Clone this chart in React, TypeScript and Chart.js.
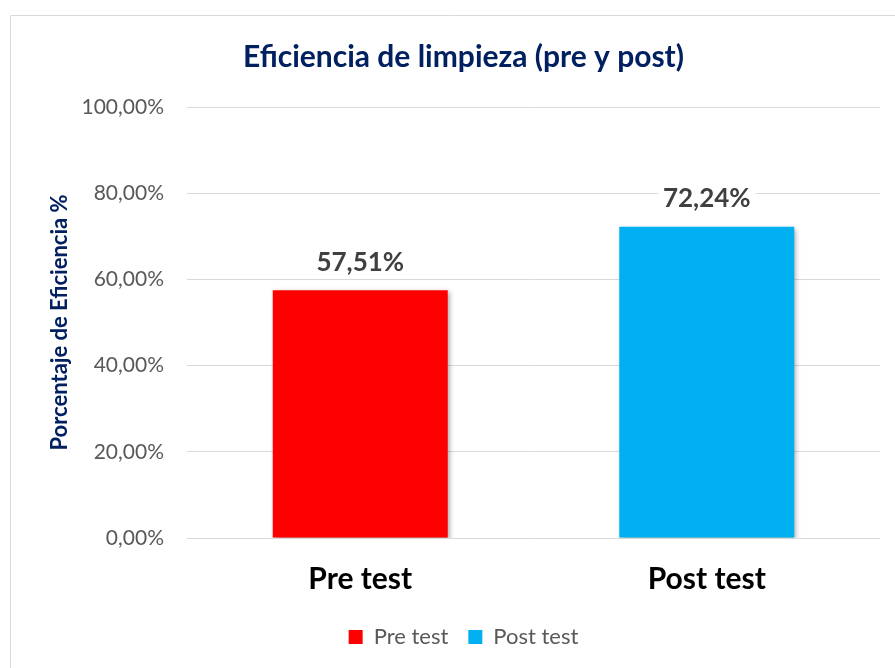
import React, { useEffect, useRef } from "react";
import { Chart, registerables } from "chart.js";

Chart.register(...registerables);

const categories = ["Pre test", "Post test"];
const values = [57.51, 72.24];
const barColors = ["#FF0000", "#00B0F0"];
const yTicks = [0, 20, 40, 60, 80, 100];
const titleText = "Eficiencia de limpieza (pre y post)";
const yTitle = "Porcentaje de Eficiencia %";

const FONT = "Lato, 'Open Sans', sans-serif";
const fmt = (v: number) => v.toFixed(2).replace(".", ",") + "%";

const framePlugin = {
  id: "frame",
  beforeDraw(chart: any) {
    const ctx = chart.ctx;
    ctx.save();
    ctx.fillStyle = "#ffffff";
    ctx.fillRect(0, 0, chart.width, chart.height);
    ctx.strokeStyle = "#d9d9d9";
    ctx.lineWidth = 1;
    ctx.beginPath();
    ctx.moveTo(10.5, chart.height + 5);
    ctx.lineTo(10.5, 15.5);
    ctx.lineTo(chart.width + 5, 15.5);
    ctx.stroke();
    ctx.restore();
  },
};

const shadowPlugin = {
  id: "barShadow",
  beforeDatasetDraw(chart: any) {
    const ctx = chart.ctx;
    ctx.save();
    ctx.shadowColor = "rgba(0,0,0,0.35)";
    ctx.shadowBlur = 5;
    ctx.shadowOffsetX = 2;
    ctx.shadowOffsetY = 2;
  },
  afterDatasetDraw(chart: any) {
    chart.ctx.restore();
  },
};

const labelPlugin = {
  id: "valueLabels",
  afterDraw(chart: any) {
    const ctx = chart.ctx;
    const meta = chart.getDatasetMeta(0);
    ctx.save();
    ctx.font = `bold 26px ${FONT}`;
    ctx.textAlign = "center";
    ctx.textBaseline = "middle";
    meta.data.forEach((bar: any, i: number) => {
      const text = fmt(values[i]);
      const y = bar.y - 28;
      const w = ctx.measureText(text).width + 10;
      ctx.fillStyle = "#ffffff";
      ctx.fillRect(bar.x - w / 2, y - 16, w, 32);
      ctx.fillStyle = "#404040";
      ctx.fillText(text, bar.x, y);
    });
    ctx.restore();
  },
};

export default function App() {
  const ref = useRef<HTMLCanvasElement>(null);
  useEffect(() => {
    if (!ref.current) return;
    const chart = new Chart(ref.current, {
      type: "bar",
      data: {
        labels: categories,
        datasets: [
          {
            label: "Eficiencia",
            data: values,
            backgroundColor: barColors,
            borderWidth: 0,
            categoryPercentage: 1,
            barPercentage: 0.505,
          },
        ],
      },
      options: {
        animation: false,
        responsive: true,
        maintainAspectRatio: false,
        layout: { padding: { left: 47, right: 15, top: 39, bottom: 10 } },
        plugins: {
          title: {
            display: true,
            text: titleText,
            color: "#002060",
            font: { family: FONT, size: 30, weight: "bold" },
            padding: { top: 0, bottom: 32 },
          },
          legend: {
            display: true,
            position: "bottom",
            labels: {
              color: "#595959",
              font: { family: FONT, size: 22 },
              boxWidth: 14,
              boxHeight: 14,
              padding: 20,
              generateLabels: () =>
                categories.map((c, i) => ({
                  text: c,
                  fillStyle: barColors[i],
                  strokeStyle: barColors[i],
                  lineWidth: 0,
                  fontColor: "#595959",
                  hidden: false,
                  index: i,
                })),
            },
          },
          tooltip: { enabled: false },
        },
        scales: {
          x: {
            grid: { display: false },
            border: { display: false },
            ticks: {
              color: "#000000",
              font: { family: FONT, size: 30, weight: "bold" },
              padding: 15,
            },
            afterFit: (s: any) => {
              s.height = 68;
            },
          },
          y: {
            min: 0,
            max: 100,
            afterBuildTicks: (s: any) => {
              s.ticks = yTicks.map((v) => ({ value: v }));
            },
            grid: { color: "#d9d9d9", lineWidth: 1, drawTicks: false },
            border: { display: false },
            ticks: {
              color: "#595959",
              font: { family: FONT, size: 21 },
              padding: 23,
              callback: (v: any) => fmt(Number(v)),
            },
            title: {
              display: true,
              text: yTitle,
              color: "#002060",
              font: { family: FONT, size: 22, weight: "bold" },
              padding: 0,
            },
            afterFit: (s: any) => {
              s.width = 140;
            },
          },
        },
      },
      plugins: [framePlugin, shadowPlugin, labelPlugin],
    });
    return () => chart.destroy();
  }, []);
  return (
    <div style={{ position: "absolute", left: 0, top: 0, width: 895, height: 668 }}>
      <canvas ref={ref} />
    </div>
  );
}
